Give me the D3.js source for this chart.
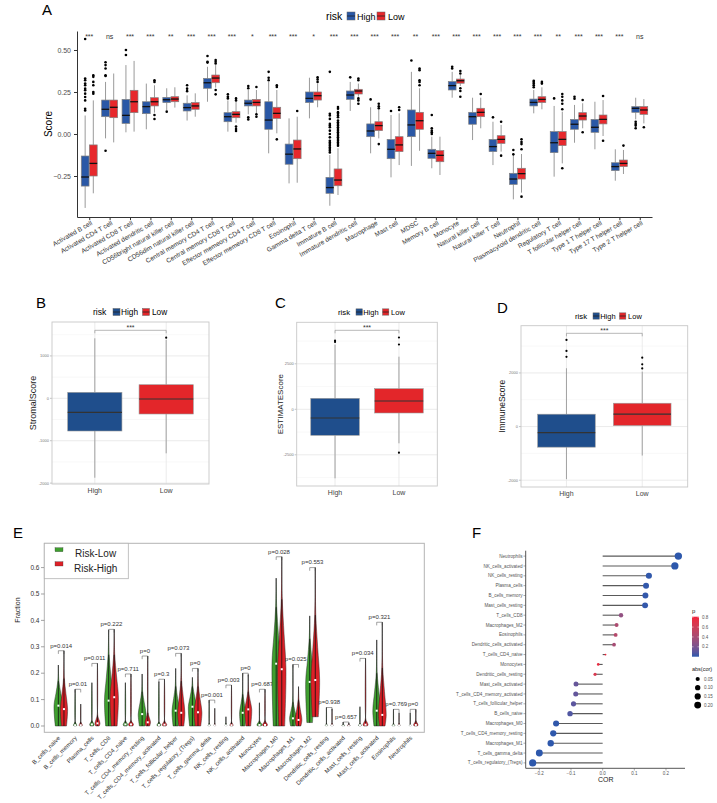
<!DOCTYPE html>
<html>
<head>
<meta charset="utf-8">
<script src="https://cdn.jsdelivr.net/npm/d3@7"></script>
<style>
body{margin:0;background:#fff;}
svg{font-family:"Liberation Sans",Arial,sans-serif;}
</style>
</head>
<body>
<svg id="fig" width="717" height="803"></svg>
<script>
// ---------- panel A : ssGSEA scores by risk group ----------
var cellTypes = ["Activated B cell","Activated CD4 T cell","Activated CD8 T cell","Activated dendritic cell",
	"CD56bright natural killer cell","CD56dim natural killer cell","Central memory CD4 T cell","Central memory CD8 T cell",
	"Effector memeory CD4 T cell","Effector memeory CD8 T cell","Eosinophil","Gamma delta T cell","Immature  B cell",
	"Immature dendritic cell","Macrophage","Mast cell","MDSC","Memory B cell","Monocyte","Natural killer cell",
	"Natural killer T cell","Neutrophil","Plasmacytoid dendritic cell","Regulatory T cell","T follicular helper cell",
	"Type 1 T helper cell","Type 17 T helper cell","Type 2 T helper cell"];
var cellSig = ["***","ns","***","***","**","***","***","***","*","***","***","*","***","***",
	"***","***","**","***","***","***","***","***","***","**","***","***","***","ns"];
// [lower whisker, q1, median, q3, upper whisker]
var aHighBox = [[-0.44,-0.31,-0.256,-0.131,0.11],[-0.026,0.103,0.147,0.202,0.31],[0.01,0.063,0.111,0.206,0.41],[0.028,0.121,0.163,0.192,0.30],
	[0.143,0.187,0.204,0.218,0.272],[0.08,0.137,0.157,0.183,0.23],[0.192,0.272,0.305,0.331,0.40],[0.014,0.073,0.103,0.127,0.20],
	[0.117,0.167,0.183,0.202,0.262],[-0.115,0.028,0.083,0.192,0.31],[-0.294,-0.18,-0.12,-0.06,0.093],[0.093,0.187,0.212,0.25,0.335],
	[-0.427,-0.353,-0.319,-0.258,-0.125],[0.137,0.206,0.232,0.256,0.31],[-0.115,-0.016,0.018,0.06,0.159],[-0.258,-0.147,-0.091,-0.032,0.113],
	[-0.19,-0.016,0.054,0.143,0.37],[-0.204,-0.145,-0.115,-0.091,-0.016],[0.216,0.262,0.288,0.312,0.37],[-0.036,0.058,0.103,0.129,0.216],
	[-0.185,-0.105,-0.075,-0.032,0.073],[-0.389,-0.30,-0.268,-0.234,-0.125],[0.123,0.167,0.188,0.208,0.262],[-0.254,-0.111,-0.052,0.014,0.167],
	[-0.052,0.028,0.058,0.087,0.173],[-0.091,0.01,0.04,0.087,0.192],[-0.278,-0.218,-0.194,-0.171,-0.091],[0.087,0.129,0.153,0.163,0.216]];
var aLowBox = [[-0.353,-0.25,-0.175,-0.065,0.2],[-0.05,0.097,0.159,0.202,0.36],[0.014,0.127,0.192,0.26,0.435],[0.127,0.167,0.192,0.216,0.29],
	[0.157,0.192,0.208,0.222,0.278],[0.103,0.147,0.167,0.187,0.242],[0.276,0.305,0.333,0.351,0.41],[0.067,0.097,0.117,0.133,0.192],
	[0.123,0.167,0.188,0.206,0.262],[0.004,0.093,0.123,0.159,0.262],[-0.29,-0.147,-0.089,-0.036,0.103],[0.159,0.202,0.228,0.25,0.30],
	[-0.363,-0.308,-0.274,-0.208,-0.085],[0.222,0.238,0.256,0.266,0.30],[-0.026,0.02,0.05,0.073,0.147],[-0.185,-0.105,-0.065,-0.016,0.123],
	[-0.10,0.028,0.079,0.129,0.272],[-0.244,-0.165,-0.127,-0.099,-0.016],[0.286,0.302,0.317,0.327,0.351],[0.034,0.103,0.129,0.153,0.216],
	[-0.105,-0.056,-0.032,-0.01,0.054],[-0.349,-0.268,-0.236,-0.204,-0.119],[0.147,0.187,0.206,0.222,0.278],[-0.175,-0.069,-0.032,0.014,0.133],
	[0.034,0.083,0.107,0.127,0.183],[-0.012,0.06,0.087,0.113,0.202],[-0.238,-0.194,-0.175,-0.155,-0.095],[0.063,0.117,0.143,0.163,0.208]];
var aHighOut = [[0.565,0.33,0.32,0.30,0.29,0.27,0.26,0.24,0.22,0.20,0.15,0.14],[0.427,0.41,0.39,0.35,0.345,-0.1],[0.5,0.47],[],
	[0.133],[0.29,0.27,0.255],[0.464,0.43,0.425],[0.236,0.222,0.212],[0.286,0.272,0.10,0.087],[0.37,0.335,0.32],[],[],
	[0.37,0.12,0.11,0.09,0.06,0.05,0.04,0.02,0.0,-0.02,-0.04,-0.05,-0.06,-0.07,-0.08,-0.09,-0.1,-0.11],[0.337],[0.206],[0.137],
	[0.437],[0.113,0.034,0.02,0.01,0.0],[0.4,0.39],[],[0.099],[-0.095,-0.121],[0.317,0.31,0.3,0.29,0.278],[0.212],
	[0.222,0.21],[],[],[0.073,0.06,0.05,0.034]];
var aLowOut = [[0.35,0.34,0.31,0.29,0.25,0.24],[],[],[0.32,0.31,0.113,0.089],[],[],[0.44,0.43,0.42,0.262,0.236],[0.212,0.2,0.044,0.03,0.018],
	[0.28,0.117,0.103],[0.29,0.28,-0.032],[0.137],[0.337,0.325,0.31],
	[0.16,0.15,0.13,0.12,0.11,0.10,0.08,0.07,0.06,0.05,0.04,0.03,0.02,0.01,0.0,-0.01,-0.02,-0.03,-0.04,-0.05,-0.06,-0.07],
	[0.32,0.33,0.212,0.2,0.18],[0.18,0.165,0.153,-0.06],[0.159,0.143],[0.39,0.38,0.32,0.31,0.29],[],[0.375,0.36,0.272,0.256,0.222],[0.238],
	[0.073,-0.129],[-0.032,-0.048,-0.06,-0.091,-0.373],[0.31,0.30],[0.238,0.222,0.2,0.18,0.147,-0.204],[0.202,0.01],[0.226,-0.04],[-0.069],[0.04]];
var aTicks = [-0.25,0,0.25,0.5];

// ---------- panels B, C, D : ESTIMATE scores ----------
var riskGroups = ["High","Low"];
var stromalBox = [[-1873,-771,-330,141,1415],[-1297,-370,-16,321,1380]];
var stromalOut = [[],[1430]];
var stromalTicks = [-2000,-1000,0,1000];
var estimateBox = [[-3791,-1428,-478,604,3550],[-1868,-203,456,1132,2890]];
var estimateOut = [[3700,3780],[3945,3560,-2385]];
var estimateTicks = [-2500,0,2500];
var immuneBox = [[-1959,-767,-223,462,2175],[-1080,37,462,871,2048]];
var immuneOut = [[3230,2820,2600],[2570,2320,2170]];
var immuneTicks = [-2000,0,2000];

// ---------- panel E : CIBERSORT fractions ----------
var immuneCells = ["B_cells_naive","B_cells_memory","Plasma_cells","T_cells_CD8","T_cells_CD4_naive","T_cells_CD4_memory_resting",
	"T_cells_CD4_memory_activated","T_cells_follicular_helper","T_cells_regulatory_(Tregs)","T_cells_gamma_delta","NK_cells_resting",
	"NK_cells_activated","Monocytes","Macrophages_M0","Macrophages_M1","Macrophages_M2","Dendritic_cells_resting",
	"Dendritic_cells_activated","Mast_cells_resting","Mast_cells_activated","Eosinophils","Neutrophils"];
var ePvalues = ["0.014","0.01","0.011","0.222","0.711","0","0.3","0.073","0","0.001","0.003","0","0.687","0.028","0.025","0.553",
	"0.938","0.657","0.034","0.321","0.769","0"];
var eLowMax = [0.231,0.139,0.164,0.364,0.164,0.197,0.168,0.218,0.184,0.098,0.035,0.200,0.088,0.560,0.233,0.417,0.070,0.015,0.073,0.326,0.063,0.050];
var eHighMax = [0.285,0.083,0.237,0.366,0.197,0.265,0.177,0.275,0.218,0.067,0.155,0.195,0.139,0.641,0.149,0.600,0.065,0.012,0.256,0.393,0.050,0.063];
var eLowMed = [0.077,0.003,0.006,0.096,0.006,0.045,0.004,0.058,0.073,0.002,0.002,0.050,0.004,0.236,0.029,0.167,0.002,0.001,0.003,0.058,0.002,0.002];
var eHighMed = [0.064,0.003,0.010,0.109,0.006,0.014,0.005,0.050,0.052,0.002,0.003,0.063,0.004,0.215,0.023,0.174,0.002,0.001,0.005,0.042,0.002,0.004];
var eLowMin = [0,0,0,0,0,0,0,0,0,0,0,0,0,0,0,0.013,0,0,0,0,0,0];
var eHighMin = [0,0,0,0,0,0,0,0,0,0,0,0,0,0,0,0.035,0,0,0,0,0,0];
var eLowNeck = [0.17,0.015,0.02,0.27,0.02,0.13,0.015,0.15,0.15,0.01,0.01,0.12,0.02,0.45,0.09,0.33,0.01,0.008,0.01,0.20,0.01,0.008];
var eHighNeck = [0.18,0.015,0.04,0.27,0.02,0.05,0.02,0.17,0.15,0.01,0.015,0.13,0.02,0.48,0.10,0.42,0.01,0.008,0.025,0.22,0.01,0.02];
var eLowWidth = [0.78,0.3,0.4,0.75,0.4,0.7,0.35,0.65,0.72,0.2,0.15,0.55,0.45,0.75,0.6,0.72,0.2,0.25,0.25,0.7,0.25,0.15];
var eHighWidth = [0.65,0.3,0.45,0.75,0.45,0.5,0.4,0.65,0.7,0.15,0.3,0.62,0.45,0.75,0.6,0.78,0.2,0.25,0.45,0.7,0.2,0.4];
var eTicks = [0,0.1,0.2,0.3,0.4,0.5,0.6];

// ---------- panel F : correlation lollipop ----------
var fCells = ["Neutrophils","NK_cells_activated","NK_cells_resting","Plasma_cells","B_cells_memory","Mast_cells_resting","T_cells_CD8",
	"Macrophages_M2","Eosinophils","Dendritic_cells_activated","T_cells_CD4_naive","Monocytes","Dendritic_cells_resting",
	"Mast_cells_activated","T_cells_CD4_memory_activated","T_cells_follicular_helper","B_cells_naive","Macrophages_M0",
	"T_cells_CD4_memory_resting","Macrophages_M1","T_cells_gamma_delta","T_cells_regulatory_(Tregs)"];
var fCor = [0.239,0.228,0.146,0.137,0.135,0.134,0.058,0.044,0.041,0.036,0.009,-0.014,-0.024,-0.084,-0.085,-0.092,-0.103,-0.147,-0.156,-0.164,-0.200,-0.221];
var fP = [0.000,0.000,0.005,0.008,0.009,0.010,0.30,0.43,0.47,0.40,0.81,0.76,0.66,0.13,0.12,0.10,0.07,0.004,0.003,0.002,0.000,0.000];
var fTicks = [-0.2,-0.1,0.0,0.1,0.2];
var pLegendTicks = [0.2,0.4,0.6,0.8];
var sizeLegendVals = [0.05,0.10,0.15,0.20];

var svg = d3.select("#fig");
svg.append("rect").attr("width",717).attr("height",803).attr("fill","#fff");
var NARROW = "'Liberation Sans Narrow','Liberation Sans',Arial,sans-serif";

function letter(txt, x, y){
	svg.append("text").attr("x",x).attr("y",y).attr("font-size",15).attr("font-family",NARROW).text(txt);
}

function drawBox(g, s, outs, cx, w, y, fill, st){
	g.append("line").attr("x1",cx).attr("x2",cx).attr("y1",y(s[0])).attr("y2",y(s[1])).attr("stroke",st.whisker).attr("stroke-width",st.ww);
	g.append("line").attr("x1",cx).attr("x2",cx).attr("y1",y(s[3])).attr("y2",y(s[4])).attr("stroke",st.whisker).attr("stroke-width",st.ww);
	g.append("rect").attr("x",cx-w/2).attr("y",y(s[3])).attr("width",w).attr("height",y(s[1])-y(s[3]))
		.attr("fill",fill).attr("stroke",st.border).attr("stroke-width",st.bw);
	g.append("line").attr("x1",cx-w/2).attr("x2",cx+w/2).attr("y1",y(s[2])).attr("y2",y(s[2]))
		.attr("stroke",st.median).attr("stroke-width",st.mw);
	(outs || []).forEach(function(o){
		g.append("circle").attr("cx",cx).attr("cy",y(o)).attr("r",st.r).attr("fill","#000");
	});
}

function legendKey(g, x, y, s, fill){
	g.append("rect").attr("x",x).attr("y",y-s/2).attr("width",s).attr("height",s).attr("fill",fill).attr("stroke","#666").attr("stroke-width",0.5);
	g.append("line").attr("x1",x).attr("x2",x+s).attr("y1",y).attr("y2",y).attr("stroke","#222").attr("stroke-width",0.8);
}

// ================= A =================
(function(){
	var g = svg.append("g");
	var y = d3.scaleLinear().domain([-0.494,0.613]).range([217,31]);
	var x = d3.scalePoint().domain(cellTypes).range([77,652]).padding(0.6);
	var bw = x.step()*0.38, off = x.step()*0.2;
	var st = {whisker:"#9a9a9a", ww:1, border:"#808080", bw:0.7, median:"#111", mw:1.3, r:1.3};

	letter("A", 42, 15);

	var ya = g.append("g").attr("transform","translate(77,0)")
		.call(d3.axisLeft(y).tickValues(aTicks).tickFormat(d3.format(".2f")).tickSize(3).tickSizeOuter(0));
	var xa = g.append("g").attr("transform","translate(0,217)")
		.call(d3.axisBottom(x).tickSize(3).tickSizeOuter(0).tickFormat(""));
	[ya, xa].forEach(function(a){
		a.selectAll("path,line").attr("stroke","#333");
		a.selectAll("text").attr("font-size",7).attr("fill","#4d4d4d").attr("font-family","Liberation Sans");
	});

	cellTypes.forEach(function(c, i){
		var cx = x(c);
		drawBox(g, aHighBox[i], aHighOut[i], cx-off, bw, y, "#2a58a6", st);
		drawBox(g, aLowBox[i], aLowOut[i], cx+off, bw, y, "#e7282c", st);
		g.append("text").attr("x",cx).attr("y",39).attr("text-anchor","middle").attr("font-size",7).attr("fill","#333").text(cellSig[i]);
		g.append("text").attr("transform","translate("+(cx+1)+",220) rotate(-30)").attr("text-anchor","end")
			.attr("dy","0.75em").attr("font-size",6.5).attr("fill","#333").text(c);
	});

	g.append("text").attr("transform","translate(52,124) rotate(-90)").attr("text-anchor","middle").attr("font-size",10).text("Score");

	// legend
	g.append("text").attr("x",326).attr("y",20).attr("font-size",10.5).text("risk");
	legendKey(g, 347, 16, 8, "#2a58a6");
	g.append("text").attr("x",357).attr("y",20).attr("font-size",9).text("High");
	legendKey(g, 377, 16, 8, "#e7282c");
	g.append("text").attr("x",388).attr("y",20).attr("font-size",9).text("Low");
})();

// ================= B, C, D =================
function scorePanel(o){
	var g = svg.append("g");
	var y = d3.scaleLinear().domain(o.domain).range([o.bottom,o.top]);
	var x = d3.scalePoint().domain(riskGroups).range([o.left,o.right]).padding(0.6);
	var st = {whisker:"#999", ww:0.9, border:"#9a9a9a", bw:0.6, median:"#333", mw:1.2, r:1.1};
	var bw = x.step()*0.76;
	var mid = [];
	for(var i = 0; i < o.ticks.length - 1; i++){ mid.push((o.ticks[i] + o.ticks[i+1])/2); }
	mid.push(o.ticks[0] - (o.ticks[1]-o.ticks[0])/2);
	mid.push(o.ticks[o.ticks.length-1] + (o.ticks[1]-o.ticks[0])/2);

	mid.forEach(function(v){
		if(y(v) > o.top && y(v) < o.bottom)
			g.append("line").attr("x1",o.left).attr("x2",o.right).attr("y1",y(v)).attr("y2",y(v)).attr("stroke","#f3f3f3").attr("stroke-width",0.6);
	});
	o.ticks.forEach(function(v){
		g.append("line").attr("x1",o.left).attr("x2",o.right).attr("y1",y(v)).attr("y2",y(v)).attr("stroke","#e6e6e6").attr("stroke-width",0.8);
		g.append("line").attr("x1",o.left-2).attr("x2",o.left).attr("y1",y(v)).attr("y2",y(v)).attr("stroke","#888").attr("stroke-width",0.5);
		g.append("text").attr("x",o.left-3).attr("y",y(v)).attr("dy","0.35em").attr("text-anchor","end")
			.attr("font-size",4).attr("fill","#777").text(String(v));
	});
	riskGroups.forEach(function(r){
		g.append("line").attr("x1",x(r)).attr("x2",x(r)).attr("y1",o.top).attr("y2",o.bottom).attr("stroke","#e6e6e6").attr("stroke-width",0.8);
		g.append("text").attr("x",x(r)).attr("y",o.bottom+9).attr("text-anchor","middle").attr("font-size",7).attr("fill","#444").text(r);
	});
	g.append("rect").attr("x",o.left).attr("y",o.top).attr("width",o.right-o.left).attr("height",o.bottom-o.top)
		.attr("fill","none").attr("stroke","#c8c8c8").attr("stroke-width",0.9);

	drawBox(g, o.box[0], o.out[0], x("High"), bw, y, "#1f4e8c", st);
	drawBox(g, o.box[1], o.out[1], x("Low"), bw, y, "#e3262a", st);

	// significance bracket
	var by = y(o.bracket);
	g.append("path").attr("d","M"+x("High")+","+(by+3)+"V"+by+"H"+x("Low")+"V"+(by+3))
		.attr("fill","none").attr("stroke","#888").attr("stroke-width",0.6);
	g.append("text").attr("x",(x("High")+x("Low"))/2).attr("y",by-0.5).attr("text-anchor","middle").attr("font-size",7).attr("fill","#333").text("***");

	g.append("text").attr("transform","translate("+o.titleX+","+((o.top+o.bottom)/2)+") rotate(-90)")
		.attr("text-anchor","middle").attr("font-size",o.titleSize).attr("fill","#222").text(o.title);

	// legend
	var k = o.legScale, lx = o.legX, ly = o.legY;
	g.append("text").attr("x",lx).attr("y",ly+3*k).attr("font-size",8.6*k).text("risk");
	legendKey(g, lx+20*k, ly, 7*k, "#1f4e8c");
	g.append("text").attr("x",lx+28*k).attr("y",ly+3*k).attr("font-size",8.3*k).text("High");
	legendKey(g, lx+49.5*k, ly, 7*k, "#e3262a");
	g.append("text").attr("x",lx+59*k).attr("y",ly+3*k).attr("font-size",8.3*k).text("Low");
}

letter("B", 36, 308);
scorePanel({domain:[-2021,1800], top:322, bottom:484, left:52, right:209, ticks:stromalTicks,
	box:stromalBox, out:stromalOut, bracket:1604, title:"StromalScore", titleX:36, titleSize:9,
	legX:93, legY:312, legScale:1});
letter("C", 275, 308);
scorePanel({domain:[-4214,4780], top:322.3, bottom:486, left:296.7, right:437.3, ticks:estimateTicks,
	box:estimateBox, out:estimateOut, bracket:4340, title:"ESTIMATEScore", titleX:283, titleSize:8,
	legX:338, legY:312, legScale:0.9});
letter("D", 497, 313);
scorePanel({domain:[-2253,3762], top:325.7, bottom:487, left:521, right:687.7, ticks:immuneTicks,
	box:immuneBox, out:immuneOut, bracket:3478, title:"ImmuneScore", titleX:505, titleSize:8.5,
	legX:575, legY:316, legScale:0.9});

// ================= E =================
(function(){
	var g = svg.append("g");
	var x = d3.scaleLinear().domain([-2.52,65.52]).range([44.3,424.3]);
	var y = d3.scaleLinear().domain([-0.0239,0.692]).range([732.3,543.3]);
	var unit = x(1) - x(0);

	letter("E", 13, 538);

	g.append("rect").attr("x",44.3).attr("y",543.3).attr("width",380).attr("height",189).attr("fill","none").attr("stroke","#b3b3b3").attr("stroke-width",1);
	eTicks.forEach(function(v){
		g.append("line").attr("x1",41).attr("x2",44.3).attr("y1",y(v)).attr("y2",y(v)).attr("stroke","#666").attr("stroke-width",0.6);
		g.append("text").attr("x",39.5).attr("y",y(v)).attr("dy","0.35em").attr("text-anchor","end").attr("font-size",6.5).attr("fill","#333").text(d3.format(".1f")(v));
	});
	g.append("text").attr("transform","translate(20,610) rotate(-90)").attr("text-anchor","middle").attr("font-size",7).attr("fill","#222").text("Fraction");

	function violin(u, lo, med, neck, hi, w, fill){
		var cx = x(u);
		var pts = [{v:lo,w:w*0.7},{v:med,w:w},{v:(med+neck)/2,w:w*0.55},{v:neck,w:w*0.12},{v:hi,w:0}];
		var area = d3.area().y(function(d){ return y(d.v); })
			.x0(function(d){ return cx - d.w*unit; }).x1(function(d){ return cx + d.w*unit; })
			.curve(d3.curveCatmullRom);
		g.append("line").attr("x1",cx).attr("x2",cx).attr("y1",y(lo)).attr("y2",y(hi)).attr("stroke","#222").attr("stroke-width",0.6);
		g.append("path").attr("d",area(pts)).attr("fill",fill).attr("stroke","#222").attr("stroke-width",0.45);
		g.append("line").attr("x1",cx).attr("x2",cx).attr("y1",y(lo)).attr("y2",y(neck)).attr("stroke","#111").attr("stroke-width",0.8);
		g.append("rect").attr("x",cx-1).attr("y",y(med)-1).attr("width",2).attr("height",2).attr("fill","#fff");
	}

	immuneCells.forEach(function(c, i){
		var u = 3*i;
		violin(u, eLowMin[i], eLowMed[i], eLowNeck[i], eLowMax[i], eLowWidth[i], "#3f9f2f");
		violin(u+1, eHighMin[i], eHighMed[i], eHighNeck[i], eHighMax[i], eHighWidth[i], "#dd2027");
		var mx = Math.max(eLowMax[i], eHighMax[i]);
		g.append("path").attr("d","M"+x(u)+","+y(mx-0.012)+"V"+y(mx)+"H"+x(u+1)+"V"+y(mx-0.012))
			.attr("fill","none").attr("stroke","#444").attr("stroke-width",0.5);
		g.append("text").attr("x",x(u+0.5)).attr("y",y(mx+0.02)).attr("dy","0.35em").attr("text-anchor","middle")
			.attr("font-size",6).attr("fill","#333").text("p=" + ePvalues[i]);
		g.append("text").attr("transform","translate("+(x(u+0.5)-2)+",737) rotate(-45)").attr("text-anchor","end")
			.attr("dy","0.35em").attr("font-size",6).attr("fill","#333").text(c);
	});

	// legend
	g.append("rect").attr("x",44.3).attr("y",543.3).attr("width",84).attr("height",35.4).attr("fill","#fff").attr("stroke","#b3b3b3").attr("stroke-width",0.8);
	g.append("rect").attr("x",55).attr("y",547.7).attr("width",8).attr("height",4).attr("fill","#3f9f2f").attr("stroke","#333").attr("stroke-width",0.3);
	g.append("text").attr("x",75).attr("y",557).attr("font-size",10).attr("fill","#222").text("Risk-Low");
	g.append("rect").attr("x",55).attr("y",561.7).attr("width",8).attr("height",4.3).attr("fill","#dd2027").attr("stroke","#333").attr("stroke-width",0.3);
	g.append("text").attr("x",74).attr("y",572).attr("font-size",10).attr("fill","#222").text("Risk-High");
})();

// ================= F =================
(function(){
	var g = svg.append("g");
	var x = d3.scaleLinear().domain([-0.243,0.26]).range([525.7,685]);
	var y = d3.scalePoint().domain(fCells).range([550.7,768.3]).padding(0.55);
	var pExt = d3.extent(fP);
	var col = d3.scaleLinear().domain(pExt).range(["#2d58ac","#f2213a"]).interpolate(d3.interpolateLab);
	var absExt = d3.extent(fCor, function(d){ return Math.abs(d); });
	var rs = d3.scaleSqrt().domain([0, absExt[1]-absExt[0]]).range([0.9,3.7]);
	function radius(v){ return rs(Math.max(0, Math.abs(v)-absExt[0])); }

	letter("F", 472, 538);

	g.append("line").attr("x1",525.7).attr("x2",525.7).attr("y1",550.7).attr("y2",768.3).attr("stroke","#555").attr("stroke-width",1);
	g.append("line").attr("x1",525.7).attr("x2",685).attr("y1",768.3).attr("y2",768.3).attr("stroke","#555").attr("stroke-width",1);
	fTicks.forEach(function(v){
		g.append("line").attr("x1",x(v)).attr("x2",x(v)).attr("y1",768.3).attr("y2",770.5).attr("stroke","#555").attr("stroke-width",0.5);
		g.append("text").attr("x",x(v)).attr("y",775).attr("text-anchor","middle").attr("font-size",4.5).attr("fill","#555").text(d3.format(".1f")(v));
	});
	g.append("text").attr("x",605.7).attr("y",782).attr("text-anchor","middle").attr("font-size",7).attr("fill","#222").text("COR");

	fCells.forEach(function(c, i){
		var cy = y(c);
		g.append("line").attr("x1",523.5).attr("x2",525.7).attr("y1",cy).attr("y2",cy).attr("stroke","#555").attr("stroke-width",0.5);
		g.append("text").attr("x",522.5).attr("y",cy).attr("dy","0.35em").attr("text-anchor","end").attr("font-size",4.6).attr("fill","#555").text(c);
		g.append("line").attr("x1",x(0)).attr("x2",x(fCor[i])).attr("y1",cy).attr("y2",cy).attr("stroke","#5a5a5a").attr("stroke-width",1.1);
	});
	fCells.forEach(function(c, i){
		g.append("circle").attr("cx",x(fCor[i])).attr("cy",y(c)).attr("r",radius(fCor[i])).attr("fill",col(fP[i]));
	});

	// colour bar
	var defs = svg.append("defs");
	var grad = defs.append("linearGradient").attr("id","pgrad").attr("x1",0).attr("y1",1).attr("x2",0).attr("y2",0);
	d3.range(0,1.0001,0.1).forEach(function(t){
		grad.append("stop").attr("offset",t).attr("stop-color",col(pExt[0]+t*(pExt[1]-pExt[0])));
	});
	var by = d3.scaleLinear().domain(pExt).range([656.7,616.7]);
	g.append("text").attr("x",692).attr("y",613).attr("font-size",6).attr("fill","#222").text("p");
	g.append("rect").attr("x",692).attr("y",616.7).attr("width",7).attr("height",40).attr("fill","url(#pgrad)");
	pLegendTicks.forEach(function(v){
		g.append("line").attr("x1",692).attr("x2",693.5).attr("y1",by(v)).attr("y2",by(v)).attr("stroke","#fff").attr("stroke-width",0.5);
		g.append("line").attr("x1",697.5).attr("x2",699).attr("y1",by(v)).attr("y2",by(v)).attr("stroke","#fff").attr("stroke-width",0.5);
		g.append("text").attr("x",702).attr("y",by(v)).attr("dy","0.35em").attr("font-size",4.5).attr("fill","#555").text(d3.format(".1f")(v));
	});

	// size legend
	g.append("text").attr("x",692).attr("y",671).attr("font-size",5.5).attr("fill","#222").text("abs(cor)");
	sizeLegendVals.forEach(function(v, i){
		var cy = 679 + i*8.7;
		g.append("circle").attr("cx",697.7).attr("cy",cy).attr("r",radius(v)).attr("fill","#000");
		g.append("text").attr("x",704).attr("y",cy).attr("dy","0.35em").attr("font-size",4.5).attr("fill","#555").text(d3.format(".2f")(v));
	});
})();
</script>
</body>
</html>
